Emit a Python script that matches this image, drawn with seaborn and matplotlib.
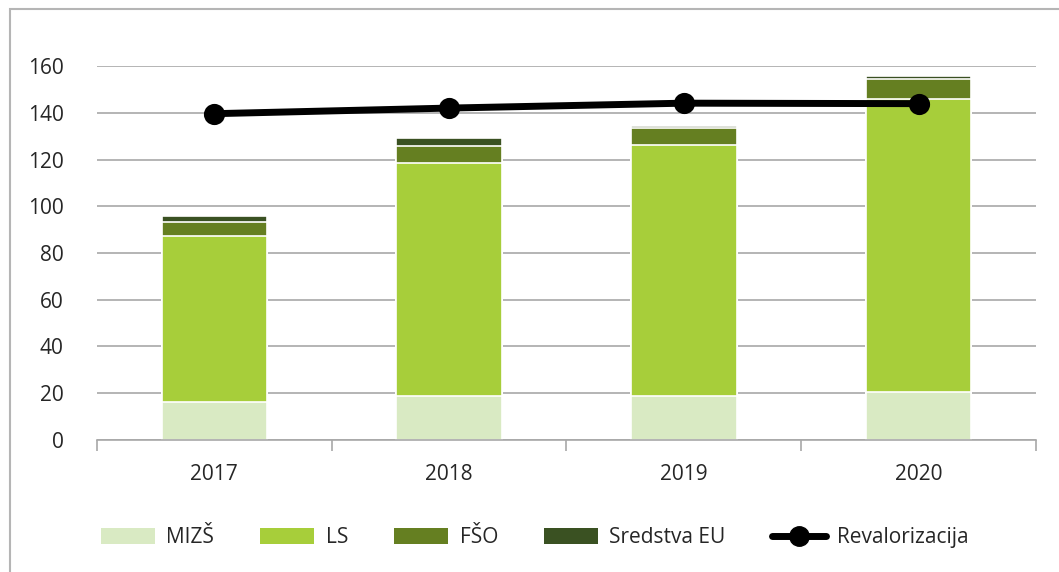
import matplotlib
matplotlib.use('Agg')
import matplotlib.pyplot as plt
import seaborn as sns
import numpy as np
from matplotlib.patches import Patch, Rectangle
from matplotlib.lines import Line2D

# podatki (odčitano s slike)
leta = ['2017', '2018', '2019', '2020']
mizs = [16.3, 19.0, 19.0, 20.5]
ls = [71.0, 99.6, 107.2, 125.5]
fso = [6.1, 7.3, 7.1, 8.5]
eu = [2.3, 3.1, 1.2, 1.3]
revalorizacija = [139.6, 142.0, 144.1, 143.9]

serije = ['MIZŠ', 'LS', 'FŠO', 'Sredstva EU']
barve = ['#d9eac3', '#a7ce3a', '#657f21', '#3a5122']

sns.set_style('white')
plt.rcParams['font.family'] = ['Open Sans', 'DejaVu Sans']

fig = plt.figure(figsize=(10.59, 5.72), dpi=100)
ax = fig.add_axes([0.0916, 0.2308, 0.8866, 0.6538])

# kumulativne vsote, risane od najvišje navzdol
plasti = np.cumsum(np.array([mizs, ls, fso, eu]), axis=0)
for k in range(3, -1, -1):
    sns.barplot(x=leta, y=plasti[k], color=barve[k], width=0.45,
                edgecolor='white', linewidth=1.2, saturation=1, ax=ax, zorder=2)

sns.pointplot(x=leta, y=revalorizacija, color='black', markers='o',
              linestyles='-', markersize=11.5, linewidth=5, ax=ax, zorder=5)

ax.set_ylim(0, 160)
ax.set_xlim(-0.5, 3.5)
ax.set_yticks(range(0, 161, 20))
ax.yaxis.grid(True, color='#a8a8a8', linewidth=1.2, zorder=0)
ax.set_axisbelow(True)
for s in ['top', 'right', 'left']:
    ax.spines[s].set_visible(False)
ax.spines['bottom'].set_color('#a8a8a8')
ax.spines['bottom'].set_linewidth(1.2)
ax.set_xlabel('')
ax.set_ylabel('')

# kljukice med kategorijami
ax.set_xticks([0, 1, 2, 3])
ax.set_xticklabels(leta)
ax.set_xticks([-0.5, 0.5, 1.5, 2.5, 3.5], minor=True)
ax.tick_params(axis='x', which='major', length=0, pad=17, labelsize=15)
ax.tick_params(axis='x', which='minor', length=8, width=1.2, color='#a8a8a8', bottom=True)
ax.tick_params(axis='y', length=0, pad=24, labelsize=15)

rocaji = [Patch(facecolor=barve[i], edgecolor='none') for i in range(4)]
rocaji.append(Line2D([], [], color='black', linewidth=5, marker='o', markersize=14))
fig.legend(rocaji, serije + ['Revalorizacija'], loc='center', ncol=5,
           bbox_to_anchor=(0.505, 0.06), frameon=False, fontsize=15,
           handlelength=2.6, handleheight=0.8, columnspacing=2.2, handletextpad=0.55)

# okvir slike
fig.patches.append(Rectangle((10 / 1059, -0.5), 1.5, 0.5 + 1 - 9 / 572,
                             transform=fig.transFigure, fill=False,
                             edgecolor='#b5b5b5', linewidth=1.5))

fig.savefig('out.png', dpi=100)
